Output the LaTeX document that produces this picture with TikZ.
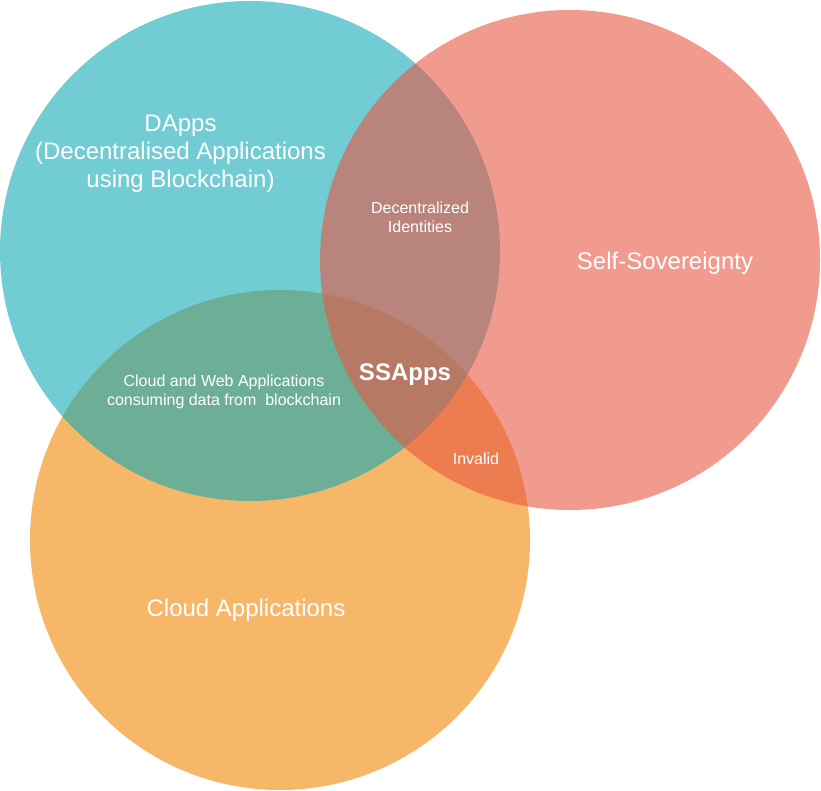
\documentclass[tikz,border=0pt]{standalone}
\usepackage{fontspec}
\setmainfont{Liberation Sans}
\definecolor{cteal}{HTML}{12AAB5}
\definecolor{csalmon}{HTML}{E85642}
\definecolor{corange}{HTML}{F08705}
\tikzset{
  setcircle/.style={circle, draw=none, inner sep=0pt, minimum size=500pt, fill opacity=0.6},
  bigtxt/.style={text=white, align=center, inner sep=0pt, font=\fontsize{24}{28}\selectfont},
  smalltxt/.style={text=white, align=center, inner sep=0pt, font=\fontsize{16}{19.2}\selectfont},
}
\begin{document}
\begin{tikzpicture}[x=1pt,y=-1pt]
\useasboundingbox (0,0) rectangle (821,791);
\node[setcircle, fill=corange] (cloud) at (280,540) {};
\node[setcircle, fill=cteal] (dapps) at (250,251) {};
\node[setcircle, fill=csalmon] (self) at (570,260) {};

\node[bigtxt] (tdapps) at (180.5,153.5) {DApps\\(Decentralised Applications\\using Blockchain)};
\node[bigtxt] (tself) at (665,263) {Self-Sovereignty};
\node[bigtxt] (tcloud) at (246,610) {Cloud Applications};
\node[bigtxt, font=\fontsize{24}{28}\selectfont\bfseries] (tssapps) at (405,375) {SSApps};
\node[smalltxt] (tdid) at (420,217) {Decentralized\\Identities};
\node[smalltxt] (tweb) at (224,391.5) {Cloud and Web Applications\\consuming data from\ \ blockchain};
\node[smalltxt] (tinvalid) at (476,458.5) {Invalid};
\end{tikzpicture}
\end{document}
